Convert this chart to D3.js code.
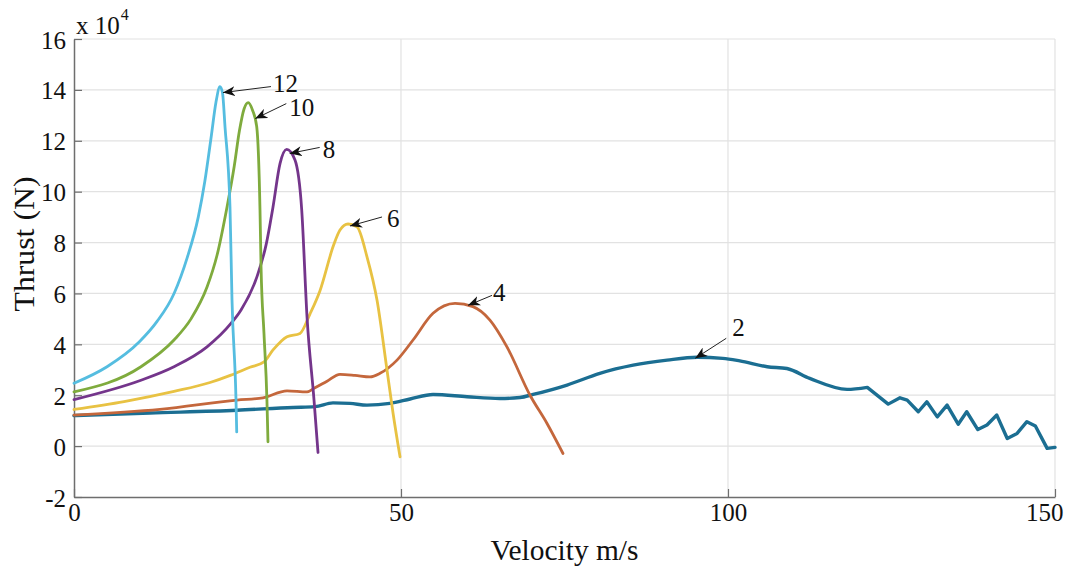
<!DOCTYPE html>
<html>
<head>
<meta charset="utf-8">
<script src="https://cdn.jsdelivr.net/npm/d3@7"></script>
<style>
  body { margin: 0; background: #fff; }
  text { font-family: "Liberation Serif", "Times New Roman", serif; fill: #111; }
</style>
</head>
<body>
<svg id="chart" width="1065" height="567"></svg>
<script>
// Thrust (x 10^4 N) versus velocity (m/s), one curve per series

const xTicks = [0, 50, 100, 150];
const yTicks = [-2, 0, 2, 4, 6, 8, 10, 12, 14, 16];

const seriesNames = ["2", "4", "6", "8", "10", "12"];

const v2 = [0, 11.6, 24.9, 33.5, 36.85, 39.6, 42.2, 44.8, 48.3, 51.4, 54.9, 60.1, 65.1, 68.2, 70.2, 75.4, 80.4,
  85.5, 90.7, 95.3, 99.2, 101.8, 106.0, 109.0, 112.5, 118.2, 121.3, 124.5, 126.3, 127.4, 129.1, 130.4, 132.0,
  133.5, 135.2, 136.5, 138.2, 139.6, 141.1, 142.7, 144.2, 145.7, 147.0, 148.8, 150];
const t2 = [1.2, 1.3, 1.41, 1.52, 1.55, 1.70, 1.68, 1.61, 1.68, 1.85, 2.03, 1.94, 1.87, 1.91, 2.03, 2.40, 2.86,
  3.18, 3.38, 3.49, 3.45, 3.35, 3.12, 3.05, 2.66, 2.23, 2.31, 1.65, 1.90, 1.81, 1.35, 1.74, 1.15,
  1.61, 0.86, 1.35, 0.65, 0.83, 1.22, 0.30, 0.50, 0.96, 0.79, -0.09, -0.05];

const v4 = [0, 13.15, 24.92, 28.9, 32.57, 35.63, 36.85, 38.69, 40.67, 42.97, 45.26, 46.79, 49.39, 51.84, 54.9,
  58.26, 61.0, 63.6, 66.2, 69.73, 72.33, 74.77];
const t4 = [1.22, 1.44, 1.81, 1.90, 2.17, 2.13, 2.29, 2.55, 2.82, 2.78, 2.72, 2.86, 3.38, 4.17, 5.22,
  5.61, 5.48, 4.95, 3.90, 2.0, 0.89, -0.29];

const v6 = [0, 7.65, 15.29, 20.8, 24.0, 26.9, 29.05, 30.4, 32.57, 34.56, 36.09, 37.6, 39.7, 40.67, 41.9,
  43.27, 44.8, 46.33, 47.86, 48.78, 49.85];
const t6 = [1.44, 1.75, 2.15, 2.5, 2.79, 3.1, 3.31, 3.77, 4.30, 4.43, 5.2, 6.1, 7.9, 8.49, 8.73,
  8.62, 7.44, 5.74, 2.99, 1.30, -0.42];

const v8 = [0, 10.24, 15.29, 20.34, 24.0, 25.54, 27.98, 29.36, 30.43, 31.5, 32.52, 33.79, 34.82, 35.63, 36.7, 37.31];
const t8 = [1.83, 2.59, 3.12, 3.90, 4.82, 5.35, 6.66, 7.90, 9.40, 11.1, 11.66, 11.24, 9.28, 5.08, 1.81, -0.25];

const v10 = [0, 10.24, 15.29, 17.89, 20.34, 21.87, 23.4, 24.5, 25.3, 26.0, 26.65, 27.3, 27.94, 28.44, 28.6, 29.05, 29.5, 29.66];
const t10 = [2.13, 3.12, 4.17, 5.0, 6.25, 7.5, 9.4, 11.0, 12.4, 13.25, 13.5, 13.2, 12.55, 9.28, 7.05, 4.43, 1.81, 0.17];

const v12 = [0, 5.05, 10.0, 12.7, 15.3, 17.3, 19.0, 20.0, 21.0, 21.7, 22.32, 22.7, 23.09, 23.85, 24.16, 24.77, 24.88];
const t12 = [2.47, 3.12, 4.1, 4.9, 6.0, 7.4, 9.0, 10.4, 12.2, 13.5, 14.13, 13.9, 12.55, 9.41, 5.74, 1.81, 0.56];

const seriesColors = ["#1b6e92", "#c4673c", "#e8c243", "#74358b", "#7fab3d", "#55bde0"];

const series = [
  { name: "2", v: v2, t: t2 },
  { name: "4", v: v4, t: t4 },
  { name: "6", v: v6, t: t6 },
  { name: "8", v: v8, t: t8 },
  { name: "10", v: v10, t: t10 },
  { name: "12", v: v12, t: t12 }
].map((s, i) => ({ ...s, color: seriesColors[i], pts: s.v.map((x, j) => [x, s.t[j]]) }));

// label placement relative to each curve's peak, in pixels: arrow tip, arrow tail, text start
const labelLayout = {
  "12": { tip: [3, 6], tail: [51, 0], text: [53, -4] },
  "10": { tip: [7, 16], tail: [38, 1], text: [41, 4] },
  "8":  { tip: [3, 4], tail: [33, -2], text: [36, 0] },
  "6":  { tip: [2, 2], tail: [34, -7], text: [39, -6] },
  "4":  { tip: [13, 2], tail: [37, -8], text: [38, -11] },
  "2":  { tip: [-2, 1], tail: [29, -19], text: [35, -30] }
};

const svg = d3.select("#chart");
const margin = { left: 74, top: 39, right: 10, bottom: 70 };
const W = 1065, H = 567;
const x = d3.scaleLinear().domain([0, 150]).range([margin.left, W - margin.right]);
const y = d3.scaleLinear().domain([-2, 16]).range([H - margin.bottom, margin.top]);

// grid
const grid = svg.append("g");
grid.selectAll("line.h").data(yTicks.filter(d => d > -2)).join("line")
  .attr("x1", x(0)).attr("x2", x(150))
  .attr("y1", d => y(d)).attr("y2", d => y(d))
  .attr("stroke", "#e2e2e2").attr("stroke-width", 1.2);
grid.selectAll("line.v").data(xTicks.filter(d => d > 0)).join("line")
  .attr("x1", d => x(d)).attr("x2", d => x(d))
  .attr("y1", y(-2)).attr("y2", y(16))
  .attr("stroke", "#e2e2e2").attr("stroke-width", 1.2);

// axes with inward ticks
const axisColor = "#6e6e6e";
const fmt = d => (d < 0 ? "-" + Math.abs(d) : String(d));
const gx = svg.append("g").attr("transform", `translate(0,${y(-2)})`)
  .call(d3.axisBottom(x).tickValues(xTicks).tickFormat(fmt).tickSizeInner(-8).tickSizeOuter(0).tickPadding(6));
const gy = svg.append("g").attr("transform", `translate(${x(0)},0)`)
  .call(d3.axisLeft(y).tickValues(yTicks).tickFormat(fmt).tickSizeInner(-8).tickSizeOuter(0).tickPadding(8));
[gx, gy].forEach(g => {
  g.attr("font-family", null);
  g.select(".domain").attr("stroke", axisColor).attr("stroke-width", 1.5);
  g.selectAll(".tick line").attr("stroke", axisColor).attr("stroke-width", 1.2);
  g.selectAll(".tick text").attr("font-family", "Liberation Serif").attr("font-size", 25).attr("fill", "#111");
});
gx.selectAll(".tick text").attr("dy", "0.7em");
gx.selectAll(".tick text").filter(d => d === 150).attr("text-anchor", "end").attr("dx", 8);
gy.selectAll(".tick text").attr("dy", "0.36em");

// exponent marker
const ex = svg.append("text").attr("x", 76).attr("y", 34).attr("font-size", 25);
ex.append("tspan").text("x 10");
ex.append("tspan").attr("font-size", 16).attr("dy", -14).attr("dx", 1).text("4");

// curves; the smooth part of series 2 is interpolated, its ragged tail is drawn straight
const line = d3.line().x(d => x(d[0])).y(d => y(d[1])).curve(d3.curveMonotoneX);
const lineLin = d3.line().x(d => x(d[0])).y(d => y(d[1]));
const pathFor = d => {
  if (d.name !== "2") return line(d.pts);
  const head = d.pts.filter(p => p[0] <= 121.3);
  const tail = d.pts.filter(p => p[0] >= 121.3);
  return line(head) + lineLin(tail).replace(/^M/, "L");
};
svg.append("g").selectAll("path").data(series).join("path")
  .attr("d", pathFor)
  .attr("fill", "none")
  .attr("stroke", d => d.color)
  .attr("stroke-width", d => d.name === "2" ? 3.4 : 2.8)
  .attr("stroke-linejoin", "round")
  .attr("stroke-linecap", "round");

// arrow annotations
svg.append("defs").append("marker")
  .attr("id", "arrowhead")
  .attr("viewBox", "0 0 12 10")
  .attr("refX", 12).attr("refY", 5)
  .attr("markerWidth", 12).attr("markerHeight", 10)
  .attr("markerUnits", "userSpaceOnUse")
  .attr("orient", "auto")
  .append("path")
  .attr("d", "M0,0 L12,5 L0,10 L3.5,5 Z")
  .attr("fill", "#111");

const ann = svg.append("g");
series.forEach(s => {
  const peak = s.pts.reduce((a, b) => (b[1] > a[1] ? b : a));
  const px = x(peak[0]), py = y(peak[1]);
  const L = labelLayout[s.name];
  ann.append("line")
    .attr("x1", px + L.tail[0]).attr("y1", py + L.tail[1])
    .attr("x2", px + L.tip[0]).attr("y2", py + L.tip[1])
    .attr("stroke", "#222").attr("stroke-width", 1)
    .attr("marker-end", "url(#arrowhead)");
  ann.append("text")
    .attr("x", px + L.text[0]).attr("y", py + L.text[1])
    .attr("dy", "0.36em")
    .attr("font-size", 25)
    .text(s.name);
});

// axis titles
svg.append("text")
  .attr("x", (x(0) + x(150)) / 2).attr("y", 560)
  .attr("text-anchor", "middle").attr("font-size", 30)
  .attr("textLength", 148).attr("lengthAdjust", "spacingAndGlyphs")
  .text("Velocity m/s");
svg.append("text")
  .attr("transform", "translate(34,244) rotate(-90)")
  .attr("text-anchor", "middle").attr("font-size", 30)
  .attr("textLength", 135).attr("lengthAdjust", "spacingAndGlyphs")
  .text("Thrust (N)");
</script>
</body>
</html>
